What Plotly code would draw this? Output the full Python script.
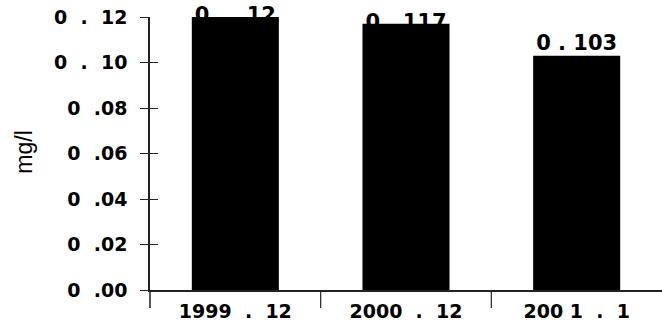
import plotly.graph_objects as go

# ---- data ----
categories = ["1999  .  12", "2000  .  12", "200 1  .  1"]
values = [0.12, 0.117, 0.103]
value_labels = ["0  .  12", "0 . 117", "0 . 103"]
tick_vals = [0.00, 0.02, 0.04, 0.06, 0.08, 0.10, 0.12]
tick_text = ["0  .00", "0  .02", "0  .04", "0  .06", "0  .08", "0  .  10", "0  .  12"]
y_title = "mg/l"

FONT = "DejaVu Sans"
AX = "#222222"

fig = go.Figure()

# value labels (drawn on the base subplot, beneath the bars)
fig.add_trace(go.Scatter(
    x=categories, y=values, mode="text", text=value_labels,
    textposition=["middle center", "middle center", "top center"],
    textfont=dict(family=FONT, size=21, color="black", weight="bold"),
    cliponaxis=False, hoverinfo="skip", showlegend=False,
    xaxis="x", yaxis="y",
))

# bars on an overlaid axis so they sit above the labels
fig.add_trace(go.Bar(
    x=categories, y=values, marker=dict(color="black", line=dict(width=0)),
    showlegend=False, xaxis="x", yaxis="y2",
))

n = len(categories)
shapes = [dict(type="line", xref="paper", yref="paper", x0=0, x1=0, y0=0, y1=-0.066,
               line=dict(color=AX, width=1.5))]
for i in range(n - 1):
    shapes.append(dict(type="line", xref="x", yref="paper", x0=i + 0.5, x1=i + 0.5,
                       y0=0, y1=-0.066, line=dict(color=AX, width=1.2)))

fig.update_layout(
    width=662, height=323,
    margin=dict(l=150, r=0, t=17, b=33, autoexpand=False),
    paper_bgcolor="white", plot_bgcolor="white",
    bargap=0.49,
    showlegend=False,
    xaxis=dict(
        type="category", range=[-0.5, n - 0.5], automargin=False,
        showline=True, linecolor=AX, linewidth=1.5,
        ticks="", showgrid=False, zeroline=False,
        tickfont=dict(family=FONT, size=19, color="black", weight="bold"),
        ticklabelstandoff=3,
    ),
    yaxis=dict(
        range=[0, 0.12], tickvals=tick_vals, ticktext=tick_text, automargin=False,
        showline=True, linecolor=AX, linewidth=1.5,
        ticks="outside", ticklen=8, tickwidth=1, tickcolor=AX,
        showgrid=False, zeroline=False,
        tickfont=dict(family=FONT, size=19, color="black", weight="bold"),
        ticklabelstandoff=9,
    ),
    yaxis2=dict(
        overlaying="y", side="left", anchor="x", automargin=False,
        range=[0, 0.12], tickvals=tick_vals,
        showline=False, showticklabels=False,
        ticks="inside", ticklen=8, tickwidth=1, tickcolor=AX,
        showgrid=False, zeroline=False,
    ),
    shapes=shapes,
    annotations=[dict(
        text=y_title, xref="paper", yref="paper", x=-0.245, y=0.505,
        xanchor="center", yanchor="middle", textangle=-90, showarrow=False,
        font=dict(family="Liberation Sans", size=23, color="black"),
    )],
)

fig.write_html(
    "out.html",
    config={"displayModeBar": False},
    post_script="document.body.style.margin='0';document.documentElement.style.overflow='hidden';",
)
